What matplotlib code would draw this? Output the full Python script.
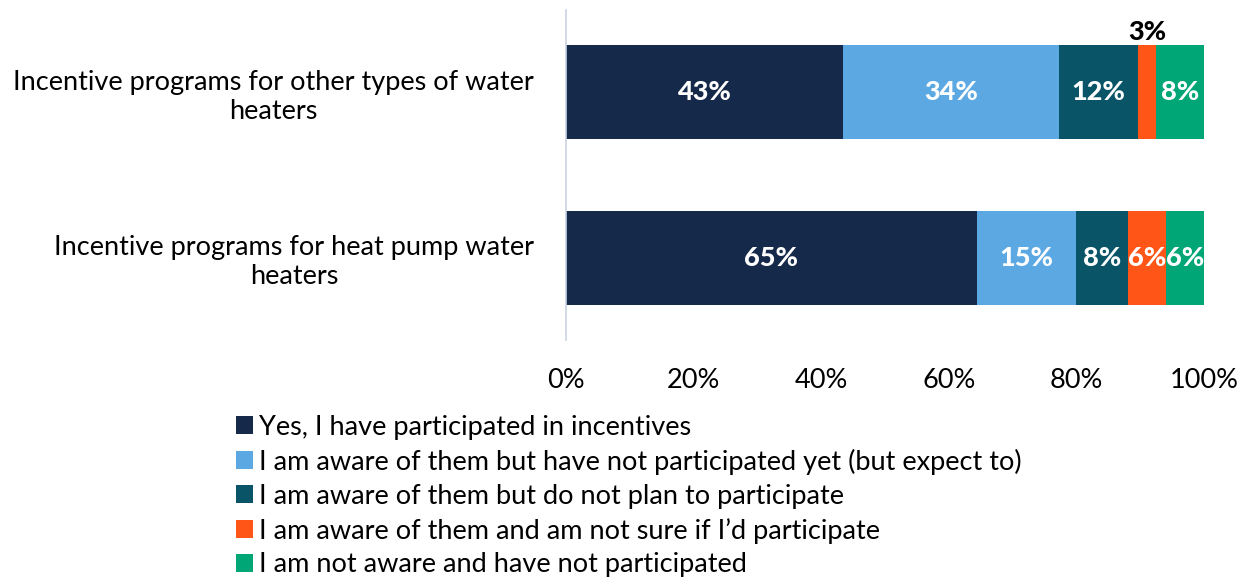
import numpy as np
import matplotlib.pyplot as plt

plt.rcParams['font.family'] = ['Lato', 'DejaVu Sans']

categories = ["Incentive programs for heat pump water\nheaters",
              "Incentive programs for other types of water\nheaters"]
series = ["Yes, I have participated in incentives",
          "I am aware of them but have not participated yet (but expect to)",
          "I am aware of them but do not plan to participate",
          "I am aware of them and am not sure if I\u2019d participate",
          "I am not aware and have not participated"]
# rows: series, cols: categories (heat pump, other)
values = [[64.4, 43.4],
          [15.5, 33.9],
          [8.2, 12.4],
          [5.9, 2.8],
          [6.0, 7.5]]
labels = [["65%", "43%"],
          ["15%", "34%"],
          ["8%", "12%"],
          ["6%", "3%"],
          ["6%", "8%"]]
colors = ["#15294A", "#5BA8E3", "#0A5468", "#FF5517", "#00A676"]

fig = plt.figure(figsize=(12.49, 5.82), dpi=100)
ax = fig.add_axes([566/1249, 1-340/582, 638/1249, 330/582])

y = np.arange(len(categories))
left = np.zeros(len(categories))
for i, s in enumerate(series):
    v = np.array(values[i])
    ax.barh(y, v, left=left, height=0.566, color=colors[i], label=s)
    for j in range(len(categories)):
        cx = left[j] + v[j] / 2
        if v[j] < 4:
            ax.text(cx, y[j] + 0.283 + 0.005, labels[i][j], ha='center', va='bottom',
                    fontsize=19.5, fontweight='black', color='black')
        else:
            ax.text(cx, y[j], labels[i][j], ha='center', va='center',
                    fontsize=19.5, fontweight='black', color='white')
    left += v

ax.set_xlim(0, 100)
ax.set_ylim(-0.494, 1.494)
ax.set_xticks(np.arange(0, 101, 20))
ax.set_xticklabels([f"{t}%" for t in range(0, 101, 20)], fontsize=19.5)
ax.set_yticks(y)
ax.set_yticklabels(categories, fontsize=19.5, multialignment='center')
ax.tick_params(axis='x', length=0, pad=20)
ax.tick_params(axis='y', length=0, pad=23)
for sp in ['top', 'right', 'bottom']:
    ax.spines[sp].set_visible(False)
ax.spines['left'].set_color('#C9D3E3')
ax.spines['left'].set_linewidth(1.2)

fig.legend(loc='upper left', bbox_to_anchor=(225/1249, 1-404/582), frameon=False,
           fontsize=19.5, handlelength=0.65, handleheight=0.65, handletextpad=0.2,
           labelspacing=0.33, borderaxespad=0)

fig.savefig("out.png", dpi=100)
